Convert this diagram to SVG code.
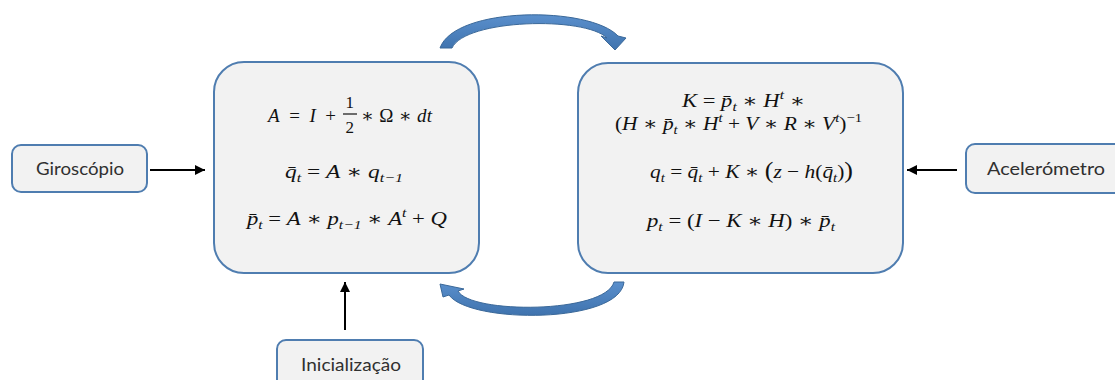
<svg xmlns="http://www.w3.org/2000/svg" width="1115" height="380" viewBox="0 0 1115 380">
<defs>
<style>
.big{fill:#F2F2F2;stroke:#4F7DB0;stroke-width:2}
.small{fill:#F2F2F2;stroke:#4F7DB0;stroke-width:2}
.lbl{font-family:Lato,"Open Sans","Liberation Sans",sans-serif;font-size:16.5px;fill:#303030;text-anchor:start}
.m{font-family:"Liberation Serif","DejaVu Serif",serif;font-size:19px;fill:#111}
.v{font-style:italic}
.s{font-size:13px;font-style:italic}
.f{font-size:17px}
.conn{stroke:#000;stroke-width:2;fill:none}
.curve{fill:url(#blue);stroke:#3A6899;stroke-width:1}
</style>
<linearGradient id="blue" x1="0" y1="0" x2="0" y2="1">
<stop offset="0" stop-color="#5A8FCC"/>
<stop offset="1" stop-color="#3F73AE"/>
</linearGradient>
<marker id="ah" viewBox="0 0 10 10" refX="10" refY="5" markerWidth="5" markerHeight="5" orient="auto" markerUnits="strokeWidth">
<path d="M0,0 L10,5 L0,10 Z" fill="#000"/>
</marker>
</defs>

<g id="connectors">
<line class="conn" x1="150" y1="170" x2="205" y2="170" marker-end="url(#ah)"/>
<line class="conn" x1="957" y1="170" x2="907" y2="170" marker-end="url(#ah)"/>
<line class="conn" x1="345" y1="330" x2="345" y2="282" marker-end="url(#ah)"/>
<path class="curve" d="M440,48 C455,6 590,6 618,36 L626,38 L615,50 L601,36 L607,38 C585,16 465,19 452,48 Z"/>
<path class="curve" d="M624,282 C620,324 470,324 449,295 L443,297 L440,284 L464,289 L458,291 C470,314 605,314 614,282 Z"/>
</g>

<g id="predict">
<rect class="big" x="214" y="62" width="265" height="211" rx="30"/>
<text class="m"><tspan x="268" y="122" style="letter-spacing:2.4px"><tspan class="v">A</tspan> = <tspan class="v">I</tspan> +</tspan><tspan class="f" x="345.5" y="108">1</tspan><tspan class="f" x="345.5" y="133">2</tspan><tspan x="361" y="122" style="letter-spacing:0.3px">∗ Ω ∗ <tspan class="v">dt</tspan></tspan></text>
<line x1="343" y1="114" x2="357" y2="114" stroke="#111" stroke-width="1.2"/>
<text class="m" x="285" y="178" textLength="118" lengthAdjust="spacingAndGlyphs"><tspan class="v">q&#x304;</tspan><tspan class="s" dy="4">t</tspan><tspan dy="-4"> = </tspan><tspan class="v">A</tspan> ∗ <tspan class="v">q</tspan><tspan class="s" dy="4">t−1</tspan></text>
<text class="m" x="247" y="225" textLength="200" lengthAdjust="spacingAndGlyphs"><tspan class="v">p&#x304;</tspan><tspan class="s" dy="4">t</tspan><tspan dy="-4"> = </tspan><tspan class="v">A</tspan> ∗ <tspan class="v">p</tspan><tspan class="s" dy="4">t−1</tspan><tspan dy="-4"> ∗ </tspan><tspan class="v">A</tspan><tspan class="s" dy="-8">t</tspan><tspan dy="8"> + </tspan><tspan class="v">Q</tspan></text>
</g>

<g id="update">
<rect class="big" x="578" y="63" width="325" height="210" rx="30"/>
<text class="m" x="682" y="107" textLength="123" lengthAdjust="spacingAndGlyphs"><tspan class="v">K</tspan> = <tspan class="v">p&#x304;</tspan><tspan class="s" dy="4">t</tspan><tspan dy="-4"> ∗ </tspan><tspan class="v">H</tspan><tspan class="s" dy="-8">t</tspan><tspan dy="8"> ∗</tspan></text>
<text class="m" x="615" y="130" textLength="247" lengthAdjust="spacingAndGlyphs">(<tspan class="v">H</tspan> ∗ <tspan class="v">p&#x304;</tspan><tspan class="s" dy="4">t</tspan><tspan dy="-4"> ∗ </tspan><tspan class="v">H</tspan><tspan class="s" dy="-8">t</tspan><tspan dy="8"> + </tspan><tspan class="v">V</tspan> ∗ <tspan class="v">R</tspan> ∗ <tspan class="v">V</tspan><tspan class="s" dy="-8">t</tspan><tspan dy="8">)</tspan><tspan class="s" style="font-style:normal" dy="-8">−1</tspan></text>
<text class="m" x="650" y="178" textLength="203" lengthAdjust="spacingAndGlyphs"><tspan class="v">q</tspan><tspan class="s" dy="4">t</tspan><tspan dy="-4"> = </tspan><tspan class="v">q&#x304;</tspan><tspan class="s" dy="4">t</tspan><tspan dy="-4"> + </tspan><tspan class="v">K</tspan> ∗ <tspan style="font-size:23px">(</tspan><tspan class="v">z</tspan> − <tspan class="v">h</tspan>(<tspan class="v">q&#x304;</tspan><tspan class="s" dy="4">t</tspan><tspan dy="-4">)</tspan><tspan style="font-size:23px">)</tspan></text>
<text class="m" x="647" y="227" textLength="188" lengthAdjust="spacingAndGlyphs"><tspan class="v">p</tspan><tspan class="s" dy="4">t</tspan><tspan dy="-4"> = (</tspan><tspan class="v">I</tspan> − <tspan class="v">K</tspan> ∗ <tspan class="v">H</tspan>) ∗ <tspan class="v">p&#x304;</tspan><tspan class="s" dy="4">t</tspan></text>
</g>

<g id="giroscopio">
<rect class="small" x="12" y="145" width="135" height="47" rx="9"/>
<text class="lbl" x="36" y="175" textLength="88" lengthAdjust="spacingAndGlyphs">Giroscópio</text>
</g>

<g id="acelerometro">
<rect class="small" x="966" y="144" width="160" height="49" rx="9"/>
<text class="lbl" x="987" y="175" textLength="118" lengthAdjust="spacingAndGlyphs">Acelerómetro</text>
</g>

<g id="inicializacao">
<rect class="small" x="277" y="340" width="146" height="60" rx="9"/>
<text class="lbl" x="301" y="371" textLength="100" lengthAdjust="spacingAndGlyphs">Inicialização</text>
</g>
</svg>
